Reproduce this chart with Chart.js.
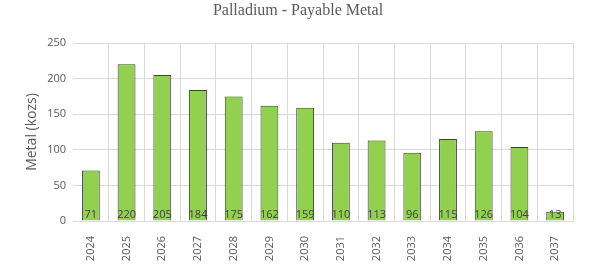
<!DOCTYPE html>
<html>
<head>
<meta charset="utf-8">
<script src="https://cdn.jsdelivr.net/npm/chart.js@4"></script>
<style>
  html, body { margin: 0; padding: 0; background: #fff; }
  #wrap { width: 600px; height: 267px; position: relative; }
</style>
</head>
<body>
<div id="wrap"><canvas id="chart"></canvas></div>
<script>
const years = ['2024', '2025', '2026', '2027', '2028', '2029', '2030', '2031', '2032', '2033', '2034', '2035', '2036', '2037'];
const payableMetal = [71, 220, 205, 184, 175, 162, 159, 110, 113, 96, 115, 126, 104, 13];
const yTicks = [0, 50, 100, 150, 200, 250];

const titleText = 'Palladium - Payable Metal';
const gridColor = '#d9d9d9';
const textColor = '#595959';

// title drawn by hand so it sits where the original has it
const titlePlugin = {
  id: 'offsetTitle',
  afterDraw(chart) {
    const ctx = chart.ctx;
    ctx.save();
    ctx.font = '16px "Liberation Serif", "DejaVu Serif", serif';
    ctx.fillStyle = textColor;
    ctx.textAlign = 'center';
    ctx.textBaseline = 'middle';
    ctx.fillText(titleText, 298, 11);
    ctx.restore();
  }
};

// value labels at the foot of each bar
const valueLabels = {
  id: 'valueLabels',
  afterDatasetsDraw(chart) {
    const ctx = chart.ctx;
    const meta = chart.getDatasetMeta(0);
    const base = chart.scales.y.getPixelForValue(0);
    ctx.save();
    ctx.font = '11px "Open Sans", sans-serif';
    ctx.fillStyle = '#404040';
    ctx.textAlign = 'center';
    ctx.textBaseline = 'bottom';
    meta.data.forEach((bar, i) => {
      ctx.fillText(String(payableMetal[i]), bar.x, base - 1);
    });
    ctx.restore();
  }
};

new Chart(document.getElementById('chart'), {
  type: 'bar',
  data: {
    labels: years,
    datasets: [{
      label: 'Payable Metal',
      data: payableMetal,
      backgroundColor: '#92d050',
      borderColor: '#3f3f3f',
      borderWidth: 1,
      categoryPercentage: 1,
      barPercentage: 0.5
    }]
  },
  options: {
    responsive: true,
    maintainAspectRatio: false,
    animation: false,
    layout: { padding: { top: 43, right: 27, left: 0, bottom: 0 } },
    plugins: {
      legend: { display: false },
      title: { display: false },
      tooltip: { enabled: false }
    },
    scales: {
      x: {
        offset: true,
        grid: {
          offset: true,
          drawTicks: false,
          color: (c) => (c.index === 0 || c.index === years.length) ? 'rgba(0,0,0,0)' : gridColor
        },
        border: { display: true, color: gridColor },
        ticks: {
          color: textColor,
          font: { family: 'Open Sans', size: 11 },
          minRotation: 90,
          maxRotation: 90,
          padding: 15,
          autoSkip: false
        },
        afterFit(scale) { scale.height = 46; }
      },
      y: {
        min: 0,
        max: 250,
        grid: { color: gridColor, drawTicks: false },
        border: { display: false },
        afterBuildTicks(scale) { scale.ticks = yTicks.map(v => ({ value: v })); },
        ticks: {
          color: textColor,
          font: { family: 'Open Sans', size: 11 },
          padding: 7
        },
        title: {
          display: true,
          text: 'Metal (kozs)',
          color: textColor,
          font: { family: 'Open Sans', size: 14 },
          padding: { top: 24, bottom: 0 }
        },
        afterFit(scale) { scale.width = 73; }
      }
    }
  },
  plugins: [titlePlugin, valueLabels]
});
</script>
</body>
</html>
